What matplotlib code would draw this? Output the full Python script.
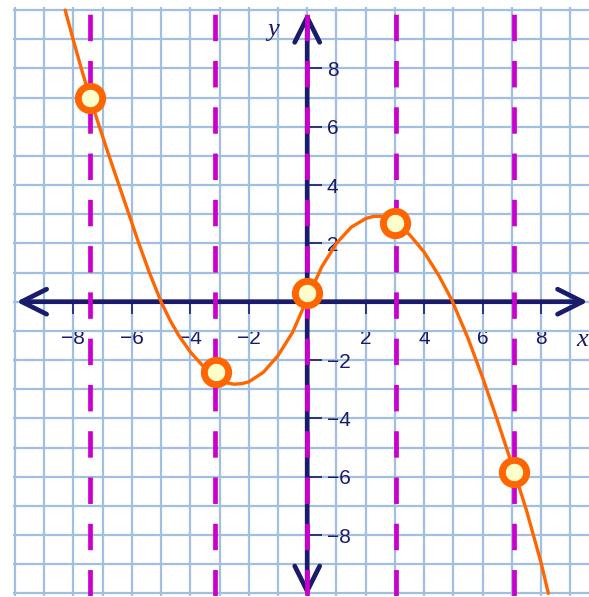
import matplotlib.pyplot as plt

plt.rcParams['font.family'] = ['Liberation Sans', 'DejaVu Sans']

# curve
curve_x = [-8.28, -8.01, -7.73, -7.43, -7.11, -6.78, -6.44, -6.10, -5.76, -5.40,
           -5.0, -4.7, -4.4, -4.0, -3.5, -3.0, -2.75, -2.5, -2.25, -2.0,
           -1.5, -1.0, -0.5, 0.0, 0.5, 1.0, 1.5, 2.0, 2.25, 2.5,
           2.75, 3.0, 3.5, 4.0, 4.5, 4.95, 5.5, 6.0, 6.5, 7.0,
           7.5, 8.0, 8.25]
curve_y = [10.0, 9.0, 8.0, 7.0, 6.0, 5.0, 4.0, 3.0, 2.0, 1.0,
           0.0, -0.62, -1.15, -1.72, -2.28, -2.66, -2.78, -2.83, -2.81, -2.75,
           -2.42, -1.85, -1.05, 0.1, 1.2, 2.0, 2.55, 2.85, 2.92, 2.93,
           2.85, 2.72, 2.3, 1.7, 0.9, 0.05, -1.25, -2.6, -4.05, -5.57,
           -7.15, -8.95, -10.0]

pts_x = [-7.44, -3.12, 0.0, 3.0, 7.08]
pts_y = [7.0, -2.42, 0.3, 2.7, -5.85]

dash_x = [-7.44, -3.15, 0.0, 3.04, 7.07]

x_ticks = [-8, -6, -4, -2, 2, 4, 6, 8]
y_ticks = [-8, -6, -4, -2, 2, 4, 6, 8]

navy = '#1b1b6b'
grid_blue = '#a0bfe2'

fig = plt.figure(figsize=(5.89, 5.97), dpi=100)
ax = fig.add_axes([0.0228, 0.0012, 0.9772, 0.9869])
ax.set_xlim(-10.05, 9.64)
ax.set_ylim(-10.1, 10.1)

ax.set_xticks(range(-10, 10), minor=True)
ax.set_yticks(range(-10, 11), minor=True)
ax.set_xticks(x_ticks)
ax.set_yticks(y_ticks)
ax.grid(which='both', color=grid_blue, lw=1.6, zorder=0)
ax.set_axisbelow(True)

for s in ['left', 'top', 'bottom', 'right']:
    ax.spines[s].set_visible(False)
ax.spines['bottom'].set_position(('data', 0))
ax.spines['right'].set_position(('data', 0))
ax.yaxis.tick_right()

ax.tick_params(which='minor', length=0)
ax.tick_params(axis='x', which='major', direction='out', length=8.5, width=1.2,
               color=navy, labelcolor=navy, labelsize=15, pad=11)
ax.tick_params(axis='y', which='major', direction='out', length=11, width=1.2,
               color=navy, labelcolor=navy, labelsize=15, pad=3)

# axes with arrow heads
arrow = dict(arrowstyle='<->, head_length=0.9, head_width=0.45', color=navy,
             lw=3.4, mutation_scale=20, shrinkA=0, shrinkB=0)
ax.annotate('', xy=(9.6, 0), xytext=(-9.95, 0), arrowprops=arrow, zorder=3)
ax.annotate('', xy=(0, 9.93), xytext=(0, -10.1), arrowprops=arrow, zorder=3)

ax.text(-1.18, 9.3, 'y', fontsize=19, style='italic', family='Liberation Serif',
        color=navy, ha='center', va='center')
ax.text(9.4, -1.3, 'x', fontsize=19, style='italic', family='Liberation Serif',
        color=navy, ha='center', va='center')

for xv in dash_x:
    ax.axvline(xv, color='#cc00cc', lw=3.4, dashes=(5.6, 4.2), zorder=4)

ax.plot(curve_x, curve_y, color='#ff6600', lw=2.4, zorder=5,
        solid_joinstyle='round', solid_capstyle='round')
ax.plot(pts_x, pts_y, 'o', ms=17.5, mew=5, mec='#ff6600', mfc='#ffffcc',
        zorder=6, clip_on=False)

fig.savefig('out.png')
